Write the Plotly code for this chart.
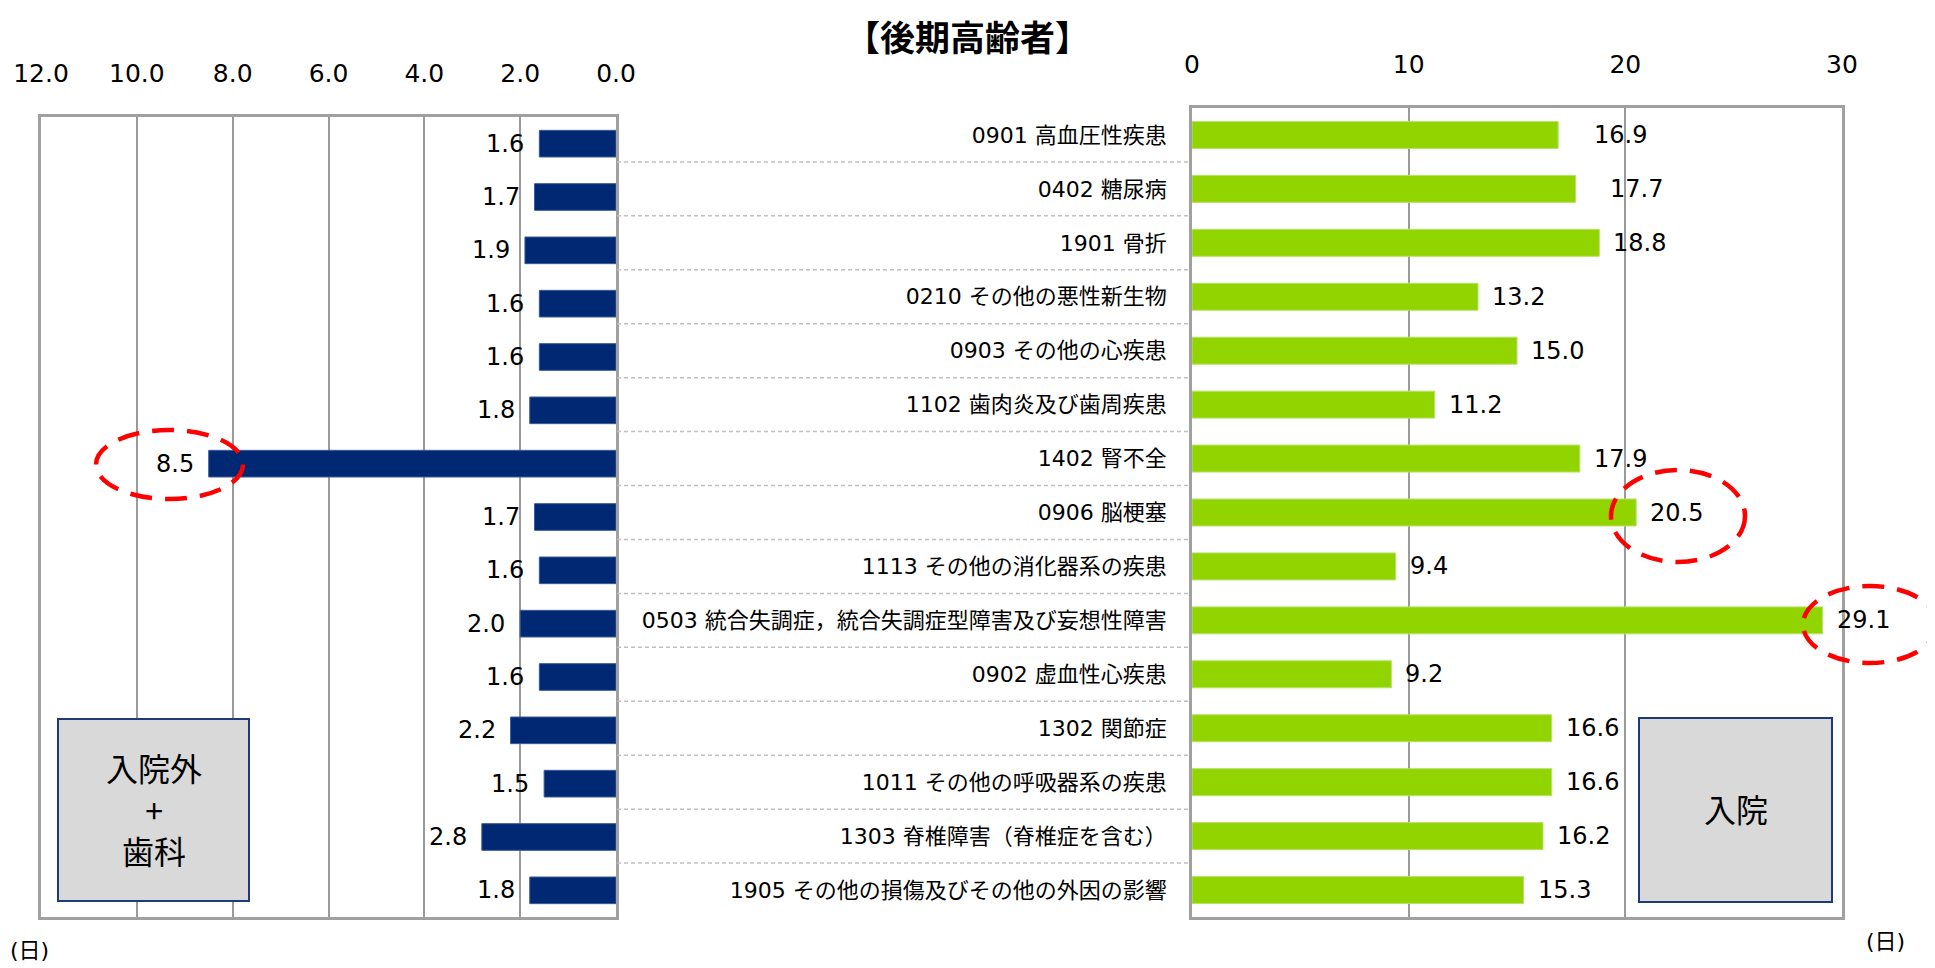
import plotly.graph_objects as go

W, H = 1935, 968
OFF = 8  # page body margin in the browser

categories = [
    "0901 高血圧性疾患",
    "0402 糖尿病",
    "1901 骨折",
    "0210 その他の悪性新生物",
    "0903 その他の心疾患",
    "1102 歯肉炎及び歯周疾患",
    "1402 腎不全",
    "0906 脳梗塞",
    "1113 その他の消化器系の疾患",
    "0503 統合失調症，統合失調症型障害及び妄想性障害",
    "0902 虚血性心疾患",
    "1302 関節症",
    "1011 その他の呼吸器系の疾患",
    "1303 脊椎障害（脊椎症を含む）",
    "1905 その他の損傷及びその他の外因の影響",
]
outpatient_days = [1.6, 1.7, 1.9, 1.6, 1.6, 1.8, 8.5, 1.7, 1.6, 2.0, 1.6, 2.2, 1.5, 2.8, 1.8]
inpatient_days = [16.9, 17.7, 18.8, 13.2, 15.0, 11.2, 17.9, 20.5, 9.4, 29.1, 9.2, 16.6, 16.6, 16.2, 15.3]
left_ticks = [0, 2, 4, 6, 8, 10, 12]
right_ticks = [0, 10, 20, 30]

FONT = "DejaVu Sans, Noto Sans CJK JP, sans-serif"
CJK = "Noto Sans CJK JP, sans-serif"
NAVY = "#002873"
GREEN = "#92d400"
FRAME = "#a0a0a0"
GRID = "#9a9a9a"


def px(x):
    return (x - OFF) / W


def py(y):
    return 1 - (y - OFF) / H


fig = go.Figure()
fig.add_trace(go.Bar(
    y=categories, x=outpatient_days, orientation="h",
    marker=dict(color=NAVY, line=dict(color="#3a5a9a", width=1)),
    width=0.5, xaxis="x", yaxis="y", showlegend=False, hoverinfo="x+y",
))
fig.add_trace(go.Bar(
    y=categories, x=inpatient_days, orientation="h",
    marker=dict(color=GREEN, line=dict(color="#b5e36a", width=1)),
    width=0.5, xaxis="x2", yaxis="y2", showlegend=False, hoverinfo="x+y",
))

annotations = []
for c, v in zip(categories, outpatient_days):
    annotations.append(dict(x=v, y=c, xref="x", yref="y", text=f"{v:.1f}",
                            showarrow=False, xanchor="right", yanchor="middle",
                            xshift=-13,
                            font=dict(size=24, color="black", family=FONT)))
right_label_shift = {0: 34, 1: 32}
for i, (c, v) in enumerate(zip(categories, inpatient_days)):
    annotations.append(dict(x=v, y=c, xref="x2", yref="y2", text=f"{v:.1f}",
                            showarrow=False, xanchor="left", yanchor="middle",
                            xshift=right_label_shift.get(i, 12),
                            font=dict(size=24, color="black", family=FONT)))

# title and unit labels
annotations.append(dict(x=px(967), y=1, xref="paper", yref="paper",
                        text="<b>【後期高齢者】</b>", showarrow=False,
                        xanchor="center", yanchor="top",
                        font=dict(size=35, color="black", family=CJK)))
annotations.append(dict(x=0, y=py(950), xref="paper", yref="paper",
                        text="(日)", showarrow=False, xanchor="left", yanchor="middle",
                        font=dict(size=22, color="black", family=FONT)))
annotations.append(dict(x=px(1885), y=py(941), xref="paper", yref="paper",
                        text="(日)", showarrow=False, xanchor="center", yanchor="middle",
                        font=dict(size=22, color="black", family=FONT)))
# boxes text
annotations.append(dict(x=px(153.5), y=py(808), xref="paper", yref="paper",
                        text="入院外<br>+<br>歯科", showarrow=False,
                        xanchor="center", yanchor="middle",
                        font=dict(size=32, color="black", family=CJK)))
annotations.append(dict(x=px(1735.5), y=py(808), xref="paper", yref="paper",
                        text="入院", showarrow=False,
                        xanchor="center", yanchor="middle",
                        font=dict(size=32, color="black", family=CJK)))

shapes = []
# dashed separators between the two panels
for i in range(len(categories) - 1):
    shapes.append(dict(type="line", xref="paper", yref="y2",
                       x0=px(617), x1=px(1191), y0=i + 0.5, y1=i + 0.5,
                       line=dict(color="#c0c0c0", width=1.5, dash="4px,3px")))
# label boxes
shapes.append(dict(type="rect", xref="paper", yref="paper",
                   x0=px(58), x1=px(249), y0=py(901), y1=py(719),
                   fillcolor="#d9d9d9", line=dict(color="#1f3a78", width=2)))
shapes.append(dict(type="rect", xref="paper", yref="paper",
                   x0=px(1639), x1=px(1832), y0=py(902), y1=py(718),
                   fillcolor="#d9d9d9", line=dict(color="#1f3a78", width=2)))
# red dashed highlight ellipses
for (x0, x1, y0, y1) in [(96, 243, 430, 499), (1611, 1745, 470, 562), (1803, 1937, 586, 663)]:
    shapes.append(dict(type="circle", xref="paper", yref="paper",
                       x0=px(x0), x1=px(x1), y0=py(y1), y1=py(y0),
                       line=dict(color="#ff0000", width=4.5, dash="22px,13px"),
                       layer="above"))

fig.update_layout(
    width=W, height=H,
    margin=dict(l=0, r=0, t=0, b=0, autoexpand=False),
    paper_bgcolor="white", plot_bgcolor="white",
    font=dict(family=FONT, color="black"),
    bargap=0.5,
    xaxis=dict(domain=[px(41), px(616)], range=[12, 0], side="top",
               tickvals=left_ticks, tickformat=".1f",
               showgrid=True, gridcolor=GRID, gridwidth=1.5,
               showline=True, linecolor=FRAME, linewidth=2.5, mirror=True,
               ticks="", ticklabelstandoff=22, zeroline=False, automargin=False,
               tickfont=dict(size=25, family=FONT), anchor="y", fixedrange=True),
    yaxis=dict(domain=[py(917), py(117)], type="category",
               categoryorder="array", categoryarray=categories,
               range=[len(categories) - 0.5, -0.5],
               showticklabels=False, showgrid=False, automargin=False,
               showline=True, linecolor=FRAME, linewidth=2.5, mirror=True,
               anchor="x", ticks=""),
    xaxis2=dict(domain=[px(1192), px(1842)], range=[0, 30], side="top",
                tickvals=right_ticks,
                showgrid=True, gridcolor=GRID, gridwidth=1.5,
                showline=True, linecolor=FRAME, linewidth=2.5, mirror=True,
                ticks="", ticklabelstandoff=22, zeroline=False, automargin=False,
                tickfont=dict(size=25, family=FONT), anchor="y2", fixedrange=True),
    yaxis2=dict(domain=[py(917), py(108)], type="category",
                categoryorder="array", categoryarray=categories,
                range=[len(categories) - 0.5, -0.5],
                showticklabels=True, side="left", showgrid=False, automargin=False,
                showline=True, linecolor=FRAME, linewidth=2.5, mirror=True,
                ticks="", ticklabelstandoff=18,
                tickfont=dict(size=22, family=FONT), anchor="x2"),
    annotations=annotations,
    shapes=shapes,
)

fig.write_html("out.html")
